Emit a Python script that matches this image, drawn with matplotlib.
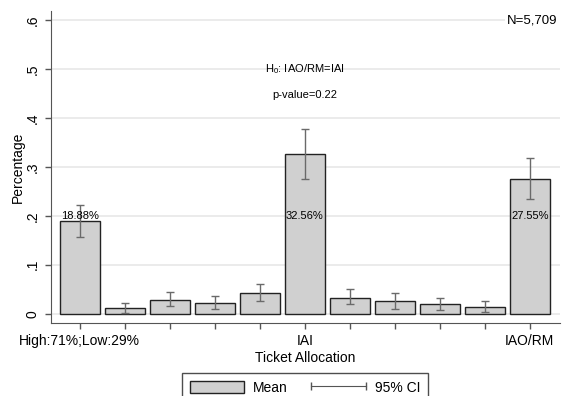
import matplotlib
matplotlib.use("Agg")
import matplotlib.pyplot as plt
from matplotlib.patches import Patch
from matplotlib.lines import Line2D
from matplotlib.legend_handler import HandlerLine2D

plt.rcParams['font.family'] = ['Liberation Sans', 'DejaVu Sans']
plt.rcParams['mathtext.fontset'] = 'custom'
plt.rcParams['mathtext.rm'] = 'Liberation Sans'

# Share of each ticket allocation with 95% confidence bounds
means = [0.1888, 0.012, 0.029, 0.0215, 0.043, 0.3256, 0.033, 0.026, 0.0195, 0.014, 0.2755]
ci_low = [0.156, 0.002, 0.015, 0.010, 0.026, 0.276, 0.019, 0.010, 0.0086, 0.004, 0.234]
ci_high = [0.222, 0.022, 0.045, 0.036, 0.061, 0.377, 0.050, 0.042, 0.033, 0.0256, 0.318]
tick_labels = ["High:71%;Low:29%", "", "", "", "", "IAI", "", "", "", "", "IAO/RM"]
labelled = [0, 5, 10]

fig = plt.figure(figsize=(5.62, 3.96), dpi=100)
ax = fig.add_axes([51 / 562, 1 - 323 / 396, 509 / 562, 312 / 396])

x = list(range(len(means)))
ax.bar(x, means, width=0.89, color='#d0d0d0', edgecolor='#222222', linewidth=1.0, zorder=2)
yerr = [[m - lo for m, lo in zip(means, ci_low)], [hi - m for m, hi in zip(means, ci_high)]]
ax.errorbar(x, means, yerr=yerr, fmt='none', ecolor='#6a6a6a', elinewidth=1.0,
            capsize=2.6, capthick=1.0, zorder=3)

for i in labelled:
    ax.text(x[i], 0.2, f"{means[i] * 100:.2f}%", ha='center', va='center', fontsize=8, zorder=4)

ax.set_xlim(-0.64, 10.67)
ax.set_ylim(-0.019, 0.619)
ax.set_yticks([0, 0.1, 0.2, 0.3, 0.4, 0.5, 0.6])
ax.set_yticklabels(["0", ".1", ".2", ".3", ".4", ".5", ".6"], rotation=90, va='center')
ax.set_xticks(x)
ax.set_xticklabels(tick_labels)
ax.tick_params(axis='both', labelsize=10, length=4, width=1, color='#555555', pad=4)
ax.grid(axis='y', color='#e8e8e8', linewidth=1.2, zorder=0)
ax.set_axisbelow(True)
for side in ['top', 'right']:
    ax.spines[side].set_visible(False)
for side in ['left', 'bottom']:
    ax.spines[side].set_color('#555555')
ax.set_ylabel("Percentage", fontsize=10, labelpad=1)
ax.set_xlabel("Ticket Allocation", fontsize=10, labelpad=2)

ax.text(5, 0.5, r"H$_{\mathrm{0}}$: IAO/RM=IAI", ha='center', va='center', fontsize=8)
ax.text(5, 0.447, "p-value=0.22", ha='center', va='center', fontsize=8)
ax.text(0.995, 0.6, "N=5,709", transform=ax.get_yaxis_transform(), ha='right', va='center',
        fontsize=9.5, bbox=dict(facecolor='white', edgecolor='none', pad=1.5))

# legend: grey box for the mean, capped line for the interval
mean_handle = Patch(facecolor='#d0d0d0', edgecolor='#222222', linewidth=1.0)
ci_handle = Line2D([], [], color='#555555', marker='|', markersize=6, linewidth=0.8)
fig.legend([mean_handle, ci_handle], ["Mean", "95% CI"], loc='upper center',
           bbox_to_anchor=(305 / 562, 1 - 373 / 396), borderaxespad=0,
           ncol=2, numpoints=2, fontsize=10, frameon=True, fancybox=False, edgecolor='#222222',
           handlelength=3.9, handleheight=0.95, handletextpad=0.65, columnspacing=1.7,
           borderpad=0.55, handler_map={ci_handle: HandlerLine2D(marker_pad=0)})

fig.savefig("out.png", dpi=100)
